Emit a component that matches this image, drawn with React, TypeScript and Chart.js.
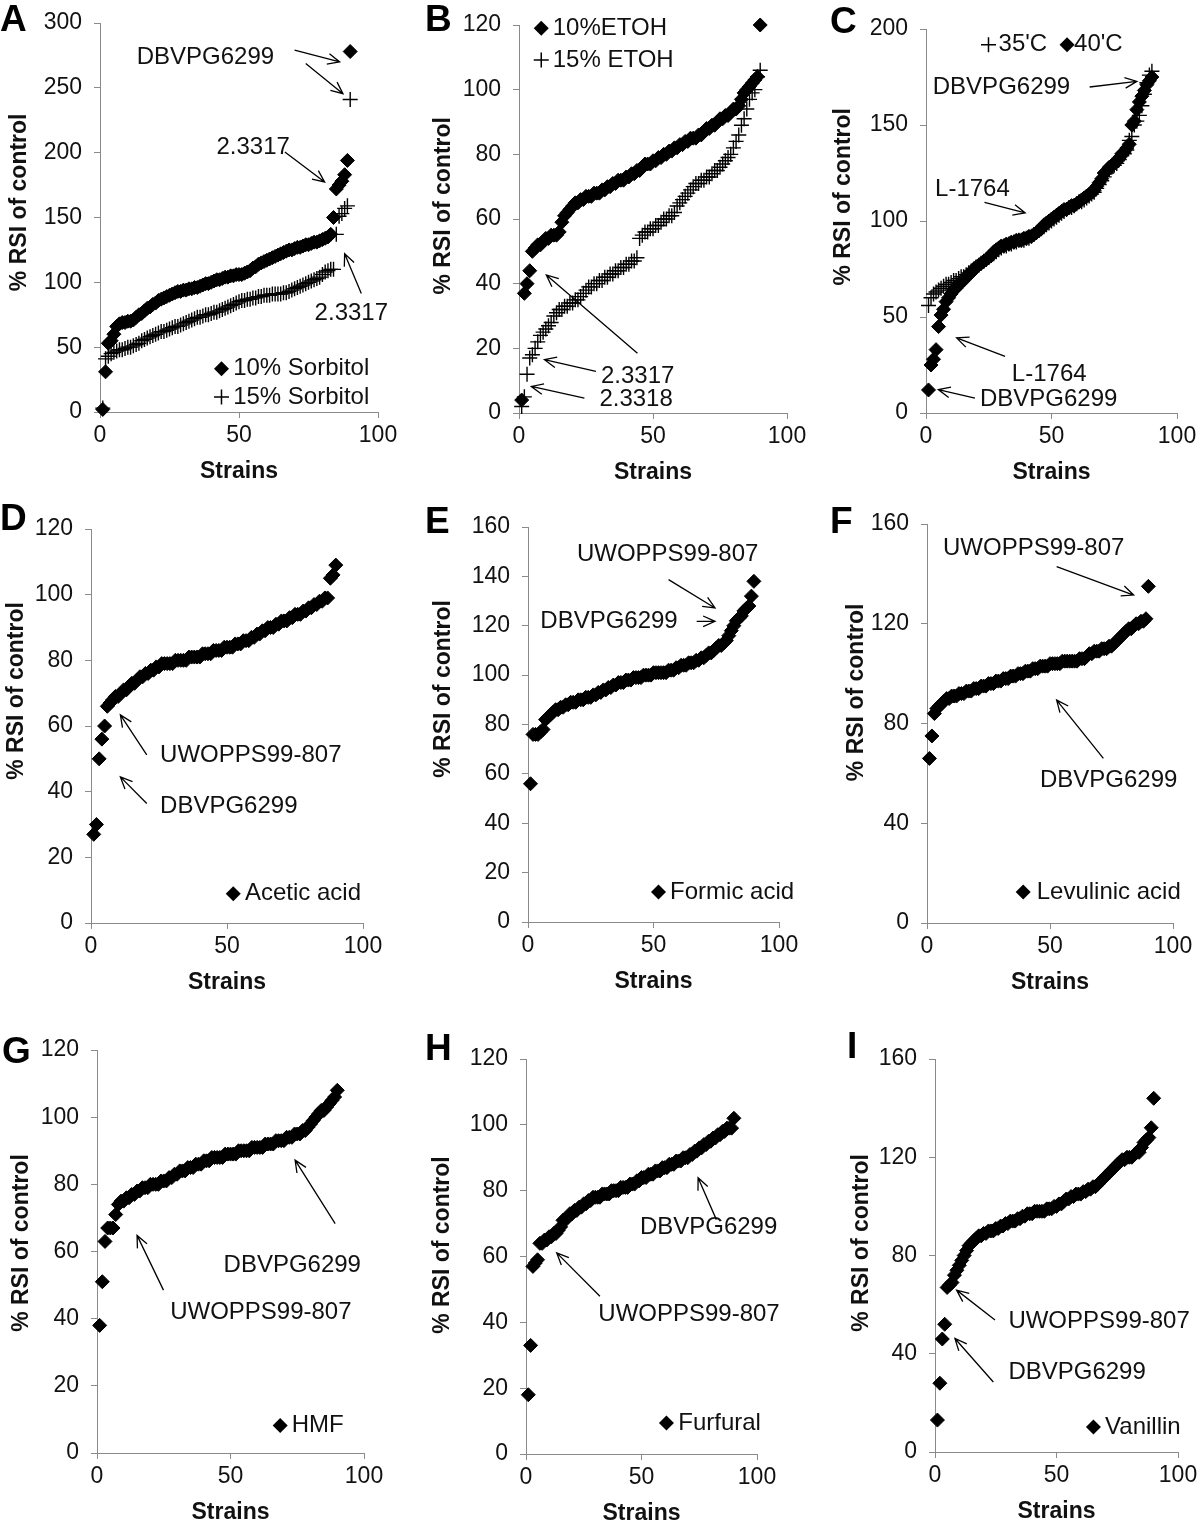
import React, { useEffect, useRef } from 'react';
import { Chart, registerables } from 'chart.js';

Chart.register(...registerables);

const FONT = "'Liberation Sans', Arial, Helvetica, sans-serif";

// ---------- data (sorted % RSI of control per strain, strain index = position + 1) ----------
const xTicks = [0, 50, 100];

const sorbitol10 = [
  2, 31, 53, 55, 60, 66, 68, 69, 69, 70,
  70, 71, 73, 75, 76, 78, 80, 81, 83, 84,
  86, 87, 88, 89, 90, 91, 92, 93, 93, 94,
  94, 95, 95, 96, 96, 97, 98, 99, 99, 100,
  101, 102, 102, 103, 104, 104, 105, 105, 106, 106,
  106, 107, 108, 109, 111, 112, 114, 115, 116, 117,
  118, 119, 120, 121, 122, 123, 124, 125, 125, 126,
  127, 127, 128, 129, 129, 130, 131, 131, 132, 133,
  134, 135, 137, 150, 172, 175, 178, 183, 194, 278,
];
const sorbitol15 = [
  3, 41, 43, 45, 46, 47, 48, 48, 49, 50,
  50, 51, 52, 53, 55, 56, 57, 58, 59, 60,
  61, 62, 62, 63, 64, 65, 66, 66, 67, 68,
  69, 70, 71, 72, 73, 73, 74, 75, 75, 76,
  77, 77, 78, 79, 80, 81, 82, 83, 84, 85,
  86, 86, 87, 87, 88, 88, 89, 89, 90, 90,
  90, 91, 91, 91, 91, 92, 92, 93, 94, 95,
  96, 97, 98, 99, 100, 101, 102, 103, 104, 106,
  108, 109, 110, 110, 137, 151, 153, 157, 159, 241,
];
const etoh10 = [
  4, 37, 40, 44, 50, 51, 52, 52, 53, 54,
  54, 55, 55, 55, 56, 59, 61, 62, 63, 64,
  65, 65, 66, 66, 67, 67, 67, 68, 68, 68,
  69, 69, 70, 70, 71, 71, 72, 72, 72, 73,
  73, 74, 74, 75, 75, 76, 77, 77, 77, 78,
  78, 79, 79, 80, 80, 81, 81, 82, 82, 83,
  83, 84, 84, 85, 85, 85, 86, 86, 87, 88,
  88, 89, 89, 90, 91, 91, 92, 92, 93, 94,
  94, 95, 97, 99, 100, 101, 102, 103, 104, 120,
];
const etoh15 = [
  2, 5, 12, 17, 18, 20, 22, 24, 25, 26,
  27, 28, 30, 31, 32, 32, 33, 33, 34, 34,
  35, 35, 36, 37, 38, 39, 39, 40, 40, 41,
  41, 42, 42, 43, 43, 44, 44, 45, 45, 46,
  46, 47, 47, 48, 54, 55, 56, 56, 57, 57,
  58, 58, 59, 60, 60, 61, 61, 62, 64, 65,
  66, 67, 68, 69, 70, 71, 71, 72, 72, 73,
  73, 74, 75, 75, 76, 77, 78, 79, 80, 82,
  84, 86, 89, 91, 94, 97, 99, 100, 104, 106,
];
const temp40 = [
  12, 25, 28, 33, 45, 51, 54, 58, 60, 62,
  64, 65, 67, 68, 69, 71, 72, 73, 75, 76,
  77, 78, 79, 80, 81, 82, 84, 85, 86, 87,
  87, 88, 88, 89, 89, 90, 90, 90, 91, 91,
  92, 92, 93, 94, 95, 96, 98, 99, 100, 101,
  102, 103, 104, 105, 106, 106, 107, 108, 108, 109,
  110, 111, 112, 113, 114, 115, 116, 118, 120, 122,
  125, 126, 128, 129, 130, 131, 133, 135, 136, 138,
  140, 150, 152, 158, 162, 165, 168, 171, 173, 175,
];
const temp35 = [
  56, 60, 62, 63, 64, 65, 66, 67, 67, 68,
  69, 69, 70, 71, 71, 72, 73, 74, 75, 76,
  77, 78, 79, 80, 81, 82, 83, 84, 85, 86,
  87, 87, 88, 88, 89, 89, 90, 90, 90, 91,
  91, 92, 93, 94, 95, 96, 97, 98, 99, 100,
  101, 102, 103, 104, 105, 106, 107, 107, 108, 109,
  110, 110, 111, 112, 113, 114, 115, 117, 119, 121,
  123, 125, 127, 128, 129, 130, 132, 134, 135, 137,
  142, 144, 150, 152, 155, 160, 166, 172, 176, 178,
];
const aceticAcid = [
  27, 30, 50, 56, 60, 66, 67, 68, 69, 69,
  70, 71, 71, 72, 73, 73, 74, 75, 75, 76,
  76, 77, 77, 78, 78, 79, 79, 79, 79, 79,
  80, 80, 80, 80, 80, 81, 81, 81, 81, 81,
  82, 82, 82, 82, 83, 83, 83, 83, 84, 84,
  84, 84, 85, 85, 85, 86, 86, 86, 87, 87,
  88, 88, 89, 89, 90, 90, 90, 91, 91, 92,
  92, 92, 93, 93, 94, 94, 94, 95, 95, 96,
  96, 97, 97, 98, 98, 99, 99, 105, 106, 109,
];
const formicAcid = [
  56, 76, 76, 76, 77, 78, 82, 83, 84, 85,
  86, 86, 87, 87, 88, 88, 89, 89, 89, 90,
  90, 90, 91, 91, 91, 92, 92, 93, 93, 94,
  94, 95, 95, 96, 96, 97, 97, 97, 98, 98,
  98, 99, 99, 99, 99, 100, 100, 100, 100, 101,
  101, 101, 101, 101, 101, 102, 102, 102, 103, 103,
  104, 104, 104, 105, 105, 105, 106, 106, 107, 107,
  108, 109, 109, 110, 111, 112, 112, 113, 114, 116,
  118, 120, 122, 123, 124, 126, 127, 128, 132, 138,
];
const levulinicAcid = [
  66, 75, 84, 86, 87, 88, 89, 90, 90, 91,
  91, 91, 92, 92, 92, 93, 93, 93, 94, 94,
  94, 95, 95, 95, 96, 96, 96, 97, 97, 97,
  98, 98, 98, 99, 99, 99, 100, 100, 100, 101,
  101, 101, 102, 102, 102, 103, 103, 103, 103, 104,
  104, 104, 104, 104, 105, 105, 105, 105, 105, 105,
  105, 106, 106, 106, 107, 108, 108, 109, 109, 109,
  110, 110, 110, 111, 111, 112, 113, 114, 115, 116,
  117, 118, 118, 119, 120, 120, 121, 121, 122, 135,
];
const hmf = [
  38, 51, 63, 67, 67, 67, 71, 74, 75, 75,
  76, 76, 77, 77, 78, 78, 79, 79, 79, 80,
  80, 80, 80, 81, 81, 81, 82, 82, 83, 83,
  84, 84, 84, 85, 85, 85, 86, 86, 86, 87,
  87, 87, 88, 88, 88, 88, 88, 89, 89, 89,
  89, 89, 90, 90, 90, 90, 90, 91, 91, 91,
  91, 91, 92, 92, 92, 92, 93, 93, 93, 93,
  94, 94, 94, 95, 95, 95, 96, 96, 97, 98,
  99, 100, 101, 102, 102, 103, 104, 105, 106, 108,
];
const furfural = [
  18, 33, 57, 58, 59, 64, 64, 65, 65, 66,
  66, 67, 67, 68, 69, 71, 71, 72, 73, 73,
  74, 74, 75, 75, 76, 76, 77, 77, 78, 78,
  78, 78, 79, 79, 79, 79, 80, 80, 80, 80,
  81, 81, 81, 81, 82, 82, 82, 83, 83, 84,
  84, 84, 85, 85, 85, 86, 86, 86, 87, 87,
  87, 88, 88, 88, 89, 89, 89, 90, 90, 90,
  91, 91, 92, 92, 93, 93, 94, 94, 95, 95,
  96, 96, 97, 97, 98, 98, 99, 99, 99, 102,
];
const vanillin = [
  13, 28, 46, 52, 67, 68, 69, 72, 74, 76,
  78, 80, 82, 84, 85, 86, 87, 88, 88, 89,
  89, 90, 90, 90, 91, 91, 92, 92, 93, 93,
  94, 94, 94, 95, 95, 96, 96, 97, 97, 97,
  98, 98, 98, 98, 98, 99, 99, 99, 100, 100,
  101, 101, 102, 103, 103, 104, 104, 105, 105, 105,
  106, 106, 107, 107, 108, 108, 109, 110, 111, 112,
  113, 114, 115, 116, 117, 118, 119, 119, 120, 120,
  120, 121, 122, 122, 124, 126, 127, 128, 132, 144,
];

// ---------- panel configuration ----------
type Marker = 'diamond' | 'cross';
type SeriesDef = { label: string; values: number[]; marker: Marker };
type Label = { text: string; x: number; y: number };
type Arrow = [number, number, number, number];
type LegendItem = { marker: Marker; mx: number; my: number; text: string; tx: number };
type PanelDef = {
  letter: string;
  plot: [number, number, number, number]; // left, right, top, bottom in page px
  yMax: number;
  yStep: number;
  series: SeriesDef[];
  labels: Label[];
  arrows: Arrow[];
  legend: LegendItem[];
  letterPos: [number, number];
  yTitle: [number, number];
};

const PANELS: PanelDef[] = [
  {
    letter: 'A', plot: [100, 378, 23, 412], yMax: 300, yStep: 50,
    series: [
      { label: '10% Sorbitol', values: sorbitol10, marker: 'diamond' },
      { label: '15% Sorbitol', values: sorbitol15, marker: 'cross' },
    ],
    labels: [
      { text: 'DBVPG6299', x: 13.2, y: 273.8 },
      { text: '2.3317', x: 41.9, y: 204.4 },
      { text: '2.3317', x: 77.2, y: 75.8 },
    ],
    arrows: [[70, 279, 86.2, 270], [74, 268.7, 87.4, 245.5], [66.5, 200.5, 80.8, 177.4], [94, 91.3, 88, 122.1]],
    legend: [
      { marker: 'diamond', mx: 43.7, my: 33.4, text: '10% Sorbitol', tx: 47.9 },
      { marker: 'cross', mx: 43.7, my: 11.6, text: '15% Sorbitol', tx: 47.9 },
    ],
    letterPos: [-100, 8], yTitle: [80, 0.461],
  },
  {
    letter: 'B', plot: [519, 787, 25, 413], yMax: 120, yStep: 20,
    series: [
      { label: '10%ETOH', values: etoh10, marker: 'diamond' },
      { label: '15% ETOH', values: etoh15, marker: 'cross' },
    ],
    labels: [
      { text: '2.3317', x: 30.6, y: 11.3 },
      { text: '2.3318', x: 30, y: 4.1 },
    ],
    arrows: [[28.7, 12.9, 9.5, 16.5], [44.2, 18.5, 10.2, 42.7], [24.4, 4.6, 4.6, 8.2]],
    legend: [
      { marker: 'diamond', mx: 8.3, my: 119, text: '10%ETOH', tx: 12.6 },
      { marker: 'cross', mx: 8.3, my: 109.2, text: '15% ETOH', tx: 12.6 },
    ],
    letterPos: [-94, 6], yTitle: [75, 0.466],
  },
  {
    letter: 'C', plot: [926, 1177, 29, 413], yMax: 200, yStep: 50,
    series: [
      { label: "35'C", values: temp35, marker: 'cross' },
      { label: "40'C", values: temp40, marker: 'diamond' },
    ],
    labels: [
      { text: 'DBVPG6299', x: 2.7, y: 169.8 },
      { text: 'L-1764', x: 3.6, y: 116.3 },
      { text: 'L-1764', x: 34.2, y: 20 },
      { text: 'DBVPG6299', x: 21.5, y: 6.9 },
    ],
    arrows: [[65.2, 169.8, 84, 172.7], [23.3, 109.7, 39.5, 104.2], [31.5, 29.5, 12.2, 39.1], [19.5, 7.8, 4.9, 12.2]],
    legend: [
      { marker: 'cross', mx: 24.9, my: 191.8, text: "35'C", tx: 28.9 },
      { marker: 'diamond', mx: 56.2, my: 191.8, text: "40'C", tx: 59.0 },
    ],
    letterPos: [-96, 4], yTitle: [82, 0.437],
  },
  {
    letter: 'D', plot: [91, 363, 529, 923], yMax: 120, yStep: 20,
    series: [{ label: 'Acetic acid', values: aceticAcid, marker: 'diamond' }],
    labels: [
      { text: 'UWOPPS99-807', x: 25.4, y: 51.2 },
      { text: 'DBVPG6299', x: 25.4, y: 35.4 },
    ],
    arrows: [[20.5, 51.2, 10.8, 63.4], [20.5, 36.4, 10.8, 44.5]],
    legend: [{ marker: 'diamond', mx: 52.3, my: 8.9, text: 'Acetic acid', tx: 56.6 }],
    letterPos: [-91, 1], yTitle: [74, 0.411],
  },
  {
    letter: 'E', plot: [528, 779, 527, 922], yMax: 160, yStep: 20,
    series: [{ label: 'Formic acid', values: formicAcid, marker: 'diamond' }],
    labels: [
      { text: 'UWOPPS99-807', x: 19.5, y: 148.8 },
      { text: 'DBVPG6299', x: 4.9, y: 121.8 },
    ],
    arrows: [[56, 138.7, 74.5, 127.2], [67.2, 121.8, 74.5, 121.8]],
    legend: [{ marker: 'diamond', mx: 52, my: 12.2, text: 'Formic acid', tx: 56.6 }],
    letterPos: [-103, 6], yTitle: [84, 0.41],
  },
  {
    letter: 'F', plot: [927, 1173, 524, 923], yMax: 160, yStep: 40,
    series: [{ label: 'Levulinic acid', values: levulinicAcid, marker: 'diamond' }],
    labels: [
      { text: 'UWOPPS99-807', x: 6.5, y: 150.3 },
      { text: 'DBVPG6299', x: 45.9, y: 57.3 },
    ],
    arrows: [[52.7, 142.9, 84, 131.5], [71.7, 66, 52.7, 89.4]],
    legend: [{ marker: 'diamond', mx: 39.1, my: 12.4, text: 'Levulinic acid', tx: 44.6 }],
    letterPos: [-97, 9], yTitle: [70, 0.422],
  },
  {
    letter: 'G', plot: [97, 364, 1050, 1453], yMax: 120, yStep: 20,
    series: [{ label: 'HMF', values: hmf, marker: 'diamond' }],
    labels: [
      { text: 'DBVPG6299', x: 47.4, y: 55.9 },
      { text: 'UWOPPS99-807', x: 27.4, y: 42 },
    ],
    arrows: [[89.2, 68.3, 74.2, 87.2], [24.9, 48.5, 15, 64.8]],
    legend: [{ marker: 'diamond', mx: 68.6, my: 8.2, text: 'HMF', tx: 72.9 }],
    letterPos: [-95, 13], yTitle: [75, 0.479],
  },
  {
    letter: 'H', plot: [526, 757, 1059, 1454], yMax: 120, yStep: 20,
    series: [{ label: 'Furfural', values: furfural, marker: 'diamond' }],
    labels: [
      { text: 'DBVPG6299', x: 49.3, y: 68.7 },
      { text: 'UWOPPS99-807', x: 31.3, y: 42.3 },
    ],
    arrows: [[82.4, 71.2, 74.5, 83.9], [32, 47.9, 13.3, 61.1]],
    legend: [{ marker: 'diamond', mx: 60.8, my: 9.4, text: 'Furfural', tx: 65.9 }],
    letterPos: [-101, 1], yTitle: [83, 0.471],
  },
  {
    letter: 'I', plot: [935, 1178, 1059, 1452], yMax: 160, yStep: 40,
    series: [{ label: 'Vanillin', values: vanillin, marker: 'diamond' }],
    labels: [
      { text: 'UWOPPS99-807', x: 30.2, y: 53 },
      { text: 'DBVPG6299', x: 30.2, y: 32.6 },
    ],
    arrows: [[24.7, 53.7, 8.9, 65.9], [24, 28.5, 8.2, 46.2]],
    legend: [{ marker: 'diamond', mx: 65.2, my: 10.2, text: 'Vanillin', tx: 70 }],
    letterPos: [-88, -1], yTitle: [73, 0.468],
  },
];

// ---------- layout constants ----------
const Y_AXIS_W = 110;
const X_AXIS_H = 75;
const PAD_TOP = 30;
const PAD_RIGHT = 30;
const AXIS_COLOR = '#8a8a8a';
const TEXT_COLOR = '#111111';
const DIAMOND_R = 7;
const CROSS_R = 7.5;

function drawDiamond(ctx: CanvasRenderingContext2D, x: number, y: number, r: number) {
  ctx.beginPath();
  ctx.moveTo(x - r, y);
  ctx.lineTo(x, y - r);
  ctx.lineTo(x + r, y);
  ctx.lineTo(x, y + r);
  ctx.closePath();
  ctx.fill();
}
function drawCross(ctx: CanvasRenderingContext2D, x: number, y: number, r: number) {
  ctx.beginPath();
  ctx.moveTo(x - r, y);
  ctx.lineTo(x + r, y);
  ctx.moveTo(x, y - r);
  ctx.lineTo(x, y + r);
  ctx.stroke();
}
function drawArrow(ctx: CanvasRenderingContext2D, x1: number, y1: number, x2: number, y2: number) {
  const ang = Math.atan2(y2 - y1, x2 - x1);
  const head = 13;
  const spread = 0.42;
  ctx.beginPath();
  ctx.moveTo(x1, y1);
  ctx.lineTo(x2, y2);
  ctx.moveTo(x2 - head * Math.cos(ang - spread), y2 - head * Math.sin(ang - spread));
  ctx.lineTo(x2, y2);
  ctx.lineTo(x2 - head * Math.cos(ang + spread), y2 - head * Math.sin(ang + spread));
  ctx.stroke();
}

function makeOverlay(p: PanelDef) {
  return {
    id: 'overlay' + p.letter,
    afterDraw(chart: any) {
      const { ctx, chartArea } = chart;
      const xs = chart.scales.x;
      const ys = chart.scales.y;
      ctx.save();
      ctx.fillStyle = '#000';
      ctx.strokeStyle = '#000';
      // panel letter
      ctx.font = `bold 37px ${FONT}`;
      ctx.textAlign = 'left';
      ctx.textBaseline = 'alphabetic';
      ctx.fillText(p.letter, chartArea.left + p.letterPos[0], chartArea.top + p.letterPos[1]);
      // y axis title
      ctx.save();
      ctx.translate(chartArea.left - p.yTitle[0], chartArea.top + p.yTitle[1] * (chartArea.bottom - chartArea.top));
      ctx.rotate(-Math.PI / 2);
      ctx.font = `bold 23px ${FONT}`;
      ctx.textAlign = 'center';
      ctx.textBaseline = 'middle';
      ctx.fillStyle = TEXT_COLOR;
      ctx.fillText('% RSI of control', 0, 0);
      ctx.restore();
      // annotation labels
      ctx.font = `24px ${FONT}`;
      ctx.fillStyle = TEXT_COLOR;
      ctx.textAlign = 'left';
      ctx.textBaseline = 'middle';
      for (const l of p.labels) {
        ctx.fillText(l.text, xs.getPixelForValue(l.x), ys.getPixelForValue(l.y));
      }
      // arrows
      ctx.lineWidth = 1.3;
      for (const a of p.arrows) {
        drawArrow(ctx, xs.getPixelForValue(a[0]), ys.getPixelForValue(a[1]), xs.getPixelForValue(a[2]), ys.getPixelForValue(a[3]));
      }
      // legend
      for (const it of p.legend) {
        const mx = xs.getPixelForValue(it.mx);
        const my = ys.getPixelForValue(it.my);
        ctx.fillStyle = '#000';
        if (it.marker === 'diamond') {
          drawDiamond(ctx, mx, my, DIAMOND_R + 0.5);
        } else {
          ctx.lineWidth = 1.5;
          drawCross(ctx, mx, my, CROSS_R);
        }
        ctx.fillStyle = TEXT_COLOR;
        ctx.fillText(it.text, xs.getPixelForValue(it.tx), my);
      }
      ctx.restore();
    },
  };
}

function PanelChart({ p }: { p: PanelDef }) {
  const ref = useRef<HTMLCanvasElement | null>(null);
  const [pl, pr, pt, pb] = p.plot;
  const width = pr - pl + Y_AXIS_W + PAD_RIGHT;
  const height = pb - pt + PAD_TOP + X_AXIS_H;
  const left = pl - Y_AXIS_W;
  const top = pt - PAD_TOP;

  useEffect(() => {
    if (!ref.current) return;
    const datasets = p.series.map((s) => ({
      label: s.label,
      data: s.values.map((v, i) => ({ x: i + 1, y: v })),
      pointStyle: s.marker === 'diamond' ? 'rectRot' : 'cross',
      pointRadius: s.marker === 'diamond' ? DIAMOND_R : CROSS_R,
      pointHoverRadius: s.marker === 'diamond' ? DIAMOND_R : CROSS_R,
      pointBackgroundColor: '#000',
      pointBorderColor: '#000',
      pointBorderWidth: s.marker === 'diamond' ? 1 : 1.4,
      showLine: false,
      clip: false,
    }));
    const chart = new Chart(ref.current, {
      type: 'scatter',
      data: { datasets },
      options: {
        animation: false,
        responsive: false,
        devicePixelRatio: 1,
        events: [],
        layout: { padding: { left: 0, top: PAD_TOP, right: PAD_RIGHT, bottom: 0 } },
        plugins: { legend: { display: false }, tooltip: { enabled: false } },
        scales: {
          x: {
            type: 'linear',
            position: 'bottom',
            min: xTicks[0],
            max: xTicks[xTicks.length - 1],
            afterBuildTicks: (scale: any) => {
              scale.ticks = xTicks.map((v) => ({ value: v }));
            },
            afterFit: (scale: any) => {
              scale.height = X_AXIS_H;
            },
            grid: { drawOnChartArea: false, drawTicks: true, tickLength: 6, color: AXIS_COLOR },
            border: { display: true, color: AXIS_COLOR, width: 1 },
            ticks: { font: { family: FONT, size: 23 }, color: TEXT_COLOR, padding: 4, maxRotation: 0 },
            title: {
              display: true,
              text: 'Strains',
              color: TEXT_COLOR,
              font: { family: FONT, size: 23, weight: 'bold' },
              padding: { top: 0, bottom: 2 },
            },
          },
          y: {
            type: 'linear',
            position: 'left',
            min: 0,
            max: p.yMax,
            ticks: { stepSize: p.yStep, font: { family: FONT, size: 23 }, color: TEXT_COLOR, padding: 12 },
            afterFit: (scale: any) => {
              scale.width = Y_AXIS_W;
            },
            grid: { drawOnChartArea: false, drawTicks: true, tickLength: 6, color: AXIS_COLOR },
            border: { display: true, color: AXIS_COLOR, width: 1 },
          },
        },
      } as any,
      plugins: [makeOverlay(p)],
    });
    return () => chart.destroy();
  }, [p]);

  return (
    <canvas
      ref={ref}
      width={width}
      height={height}
      style={{ position: 'absolute', left, top, width, height }}
    />
  );
}

export default function App() {
  return (
    <div
      style={{
        position: 'absolute',
        left: 0,
        top: 0,
        width: 1200,
        height: 1526,
        overflow: 'hidden',
        background: '#ffffff',
      }}
    >
      {PANELS.map((p) => (
        <PanelChart key={p.letter} p={p} />
      ))}
    </div>
  );
}
